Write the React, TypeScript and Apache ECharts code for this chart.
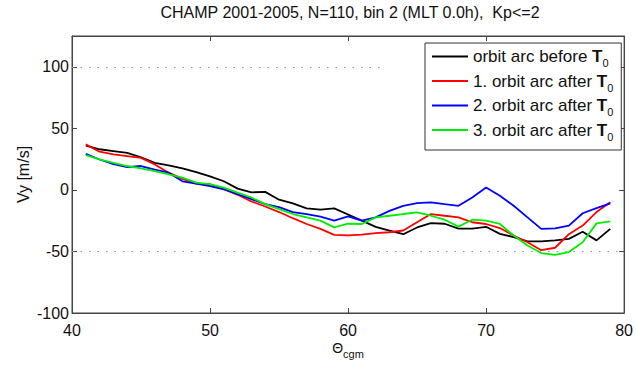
import React, { useEffect, useRef } from "react";
import * as echarts from "echarts";

const thetaCgm = [
  41, 42, 43, 44, 45, 46, 47, 48, 49, 50, 51, 52, 53, 54, 55, 56, 57, 58, 59, 60,
  61, 62, 63, 64, 65, 66, 67, 68, 69, 70, 71, 72, 73, 74, 75, 76, 77, 78, 79,
];

const beforeT0 = [
  36, 33, 31.5, 30, 26.5, 22, 20, 17.5, 14.5, 11, 7, 1, -2, -1.6, -8, -11, -15, -16, -15, -20,
  -25, -30, -33, -36, -30.5, -27, -27.5, -31.5, -31.5, -30, -35.7, -38.4, -41.9, -41.9, -41, -39.8, -34, -41, -31.7,
];
const after1 = [
  37, 31, 28.8, 27.4, 26, 20.7, 14, 9, 5, 4.6, 0.5, -4, -9.4, -13.5, -18, -23, -27.7, -31.7, -36.6, -37,
  -36.3, -35.2, -34.4, -33, -26.3, -19.6, -21, -22.3, -26.3, -27.7, -31, -37, -42.5, -49, -47, -36, -29, -18, -10,
];
const after2 = [
  29.3, 24.7, 21, 18.5, 19.4, 16.5, 14, 7, 5, 3, 0.5, -3.5, -7.5, -11.6, -14, -18, -19.6, -21.8, -25, -21.5,
  -25, -22.3, -17, -13, -10.8, -10.2, -11.6, -12.9, -6.2, 1.9, -4.8, -12.9, -22.3, -31.7, -31.2, -29, -19, -14.8, -11,
];
const after3 = [
  28.2, 24.7, 22, 19.4, 17.5, 15.3, 12.6, 9.9, 5.9, 4.6, 1.9, -2.2, -6.2, -11.6, -15.6, -19.6, -22.3, -25, -30.4, -27.5,
  -27.7, -22.3, -21, -19.6, -18.3, -21, -24.2, -29.8, -24.2, -25, -27.7, -37.1, -45.2, -51.3, -52.7, -50.5, -42.5, -27.2, -25.5,
];

const seriesNames = ["before", "after1", "after2", "after3"];
const legendPrefixes = ["orbit arc before ", "1. orbit arc after ", "2. orbit arc after ", "3. orbit arc after "];
const seriesColors = ["#000000", "#ff0000", "#0000ff", "#00ee00"];
const seriesValues = [beforeT0, after1, after2, after3];

const xTicks = { min: 40, max: 80, interval: 10 };
const yTicks = { min: -100, max: 125, interval: 50 };
const dottedLevels = [100, -50];
const upperDottedEnd = 62.5;

const titleText = "CHAMP 2001-2005, N=110, bin 2 (MLT 0.0h),  Kp<=2";
const yName = "Vy [m/s]";

const FONT = "Liberation Sans, Arial, Helvetica, sans-serif";

export default function App() {
  const ref = useRef<HTMLDivElement>(null);
  useEffect(() => {
    if (!ref.current) return;
    const chart = echarts.init(ref.current, undefined, { renderer: "svg" });
    const axisCommon = {
      type: "value" as const,
      axisLine: { show: true, onZero: false, lineStyle: { color: "#444", width: 1 } },
      axisTick: { show: true, inside: true, length: 5, lineStyle: { color: "#444" } },
      splitLine: { show: false },
    };
    const series = seriesNames.map((name, i) => ({
      name,
      type: "line",
      xAxisIndex: 0,
      yAxisIndex: 0,
      data: thetaCgm.map((x, j) => [x, seriesValues[i][j]]),
      symbol: "none",
      lineStyle: { color: seriesColors[i], width: 1.8 },
      itemStyle: { color: seriesColors[i] },
      z: 3,
      markLine:
        i === 0
          ? {
              silent: true,
              symbol: "none",
              label: { show: false },
              lineStyle: { color: "#999", type: [1.5, 7], width: 1.2 },
              data: [
                [
                  { coord: [xTicks.min, dottedLevels[0]] },
                  { coord: [upperDottedEnd, dottedLevels[0]] },
                ],
                { yAxis: dottedLevels[1] },
              ],
            }
          : undefined,
    }));
    chart.setOption({
      animation: false,
      backgroundColor: "#ffffff",
      textStyle: { fontFamily: FONT },
      title: {
        text: titleText,
        left: 350,
        top: 4,
        padding: 0,
        textAlign: "center",
        textStyle: { fontFamily: FONT, fontSize: 16, fontWeight: "normal", color: "#111" },
      },
      grid: {
        left: 72,
        right: 8,
        top: 36,
        bottom: 52,
        show: true,
        borderColor: "#444",
        borderWidth: 1,
        backgroundColor: "transparent",
      },
      legend: {
        orient: "vertical",
        left: 425,
        top: 43,
        padding: [5, 8, 8, 7],
        itemGap: 4,
        itemWidth: 36,
        itemHeight: 2,
        icon: "rect",
        backgroundColor: "#ffffff",
        borderColor: "#333",
        borderWidth: 1,
        borderRadius: 0,
        data: seriesNames,
        formatter: (name: string) => {
          const idx = seriesNames.indexOf(name);
          return `{n|${legendPrefixes[idx]}}{b|T}{s|0}`;
        },
        textStyle: {
          fontFamily: FONT,
          fontSize: 17,
          color: "#111",
          padding: [0, 0, 0, 0],
          rich: {
            n: { fontFamily: FONT, fontSize: 17, color: "#111", lineHeight: 24, verticalAlign: "middle" },
            b: { fontFamily: FONT, fontSize: 17, fontWeight: "bold", color: "#111", lineHeight: 24, verticalAlign: "middle" },
            s: { fontFamily: FONT, fontSize: 11, color: "#111", lineHeight: 11, verticalAlign: "bottom" },
          },
        },
      },
      xAxis: [
        {
          ...axisCommon,
          position: "bottom",
          min: xTicks.min,
          max: xTicks.max,
          interval: xTicks.interval,
          axisLabel: { fontFamily: FONT, fontSize: 16, color: "#111", margin: 9 },
          name: "{t|Θ}{s|cgm}",
          nameLocation: "middle",
          nameGap: 24,
          nameMoveOverlap: false,
          nameTextStyle: {
            rich: {
              t: { fontFamily: FONT, fontSize: 14, color: "#111", lineHeight: 22, verticalAlign: "middle" },
              s: { fontFamily: FONT, fontSize: 11, color: "#111", lineHeight: 11, verticalAlign: "bottom" },
            },
          },
        },
        {
          ...axisCommon,
          position: "top",
          min: xTicks.min,
          max: xTicks.max,
          interval: xTicks.interval,
          axisLabel: { show: false },
        },
      ],
      yAxis: [
        {
          ...axisCommon,
          position: "left",
          min: yTicks.min,
          max: yTicks.max,
          interval: yTicks.interval,
          axisLabel: { fontFamily: FONT, fontSize: 16, color: "#111", margin: 3, showMaxLabel: false },
          name: yName,
          nameLocation: "middle",
          nameGap: 41,
          nameMoveOverlap: false,
          nameTextStyle: { fontFamily: FONT, fontSize: 16, color: "#111" },
        },
        {
          ...axisCommon,
          position: "right",
          min: yTicks.min,
          max: yTicks.max,
          interval: yTicks.interval,
          axisLabel: { show: false },
        },
      ],
      series,
    });
    return () => chart.dispose();
  }, []);
  return (
    <div
      ref={ref}
      style={{ position: "absolute", left: 0, top: 0, width: 636, height: 365, background: "#fff" }}
    />
  );
}
